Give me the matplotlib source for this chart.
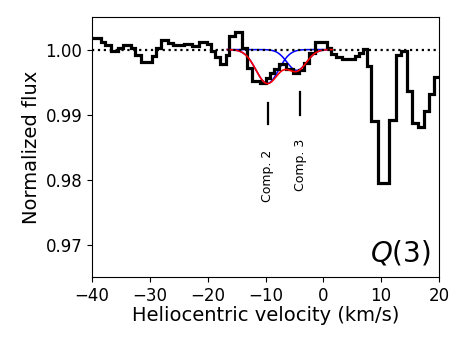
import matplotlib
matplotlib.use('Agg')
import matplotlib.pyplot as plt
import numpy as np

# step spectrum: bin edges (km/s) and normalized flux in each bin
edges = [-40.0, -38.4, -37.8, -36.8, -35.6, -34.6, -33.3, -32.6, -31.6, -29.7,
         -28.9, -28.0, -26.9, -26.0, -24.1, -22.7, -21.5, -20.1, -19.5, -18.7,
         -17.8, -16.8, -16.3, -15.3, -14.0, -13.2, -12.3, -11.0, -9.9, -9.3,
         -8.5, -7.6, -6.5, -5.3, -4.2, -3.3, -2.45, -1.5, 0.6, 1.4,
         2.2, 3.3, 5.4, 6.1, 6.8, 7.55, 8.2, 9.4, 11.4, 12.6,
         13.4, 14.4, 15.3, 16.3, 17.5, 18.3, 19.2, 20.0]
flux = [1.0017, 1.0012, 1.0007, 0.9997, 1.0002, 1.0007, 1.0002, 0.9991, 0.9981,
        0.9990, 1.0002, 1.0014, 1.0010, 1.0007, 1.0008, 1.0006, 1.0012, 1.0008,
        0.9998, 0.9988, 0.9977, 0.9992, 1.0021, 1.0027, 1.0003, 0.9972, 0.9951,
        0.9948, 0.9956, 0.9964, 0.9970, 0.9977, 0.9970, 0.9964, 0.9968, 0.9979,
        0.9994, 1.0011, 1.0002, 0.9993, 0.9989, 0.9986, 0.9990, 0.9995, 1.0001,
        0.9974, 0.9890, 0.9795, 0.9892, 0.9992, 0.9998, 0.9936, 0.9887, 0.9881,
        0.9905, 0.9931, 0.9958]

# fitted components: centre (km/s), width (km/s), depth
comp_names = ['Comp. 2', 'Comp. 3']
comp_v = [-9.7, -4.6]
comp_sig = [1.95, 1.7]
comp_depth = [0.0052, 0.0032]
comp_tick_v = [-9.6, -4.0]
model_range = (-16.6, 1.5)

fig = plt.figure(figsize=(4.63, 3.48), dpi=100)
ax = fig.add_axes([0.199, 0.204, 0.749, 0.747])

ax.stairs(flux, edges, baseline=None, color='k', lw=2.3, zorder=3)

v = np.linspace(model_range[0], model_range[1], 300)
total = np.ones_like(v)
for c, s, d in zip(comp_v, comp_sig, comp_depth):
    prof = 1 - d * np.exp(-(v - c) ** 2 / (2 * s ** 2))
    total *= prof
    ax.plot(v, prof, color='b', lw=1.1, zorder=2)
ax.plot(v, total, color='r', lw=1.2, zorder=4)

ax.axhline(1.0, color='k', ls=':', lw=1.6, zorder=5)

# component markers
tick_top = [0.9917, 0.9934]
tick_bot = [0.9885, 0.9900]
lab_top = [0.9846, 0.9862]
for i in range(2):
    ax.plot([comp_tick_v[i], comp_tick_v[i]], [tick_bot[i], tick_top[i]], color='k', lw=1.6)
    ax.text(comp_tick_v[i], lab_top[i], comp_names[i], rotation=90, ha='center', va='top', fontsize=9)

ax.text(0.975, 0.035, '$Q(3)$', transform=ax.transAxes, ha='right', va='bottom', fontsize=20)

ax.set_xlim(-40, 20)
ax.set_ylim(0.965, 1.005)
ax.set_xticks([-40, -30, -20, -10, 0, 10, 20])
ax.set_yticks([0.97, 0.98, 0.99, 1.00])
ax.set_yticklabels(['0.97', '0.98', '0.99', '1.00'])
ax.tick_params(labelsize=12)
ax.set_xlabel('Heliocentric velocity (km/s)', fontsize=14, labelpad=1)
ax.set_ylabel('Normalized flux', fontsize=14, labelpad=3)

fig.savefig('out.png', dpi=100)
